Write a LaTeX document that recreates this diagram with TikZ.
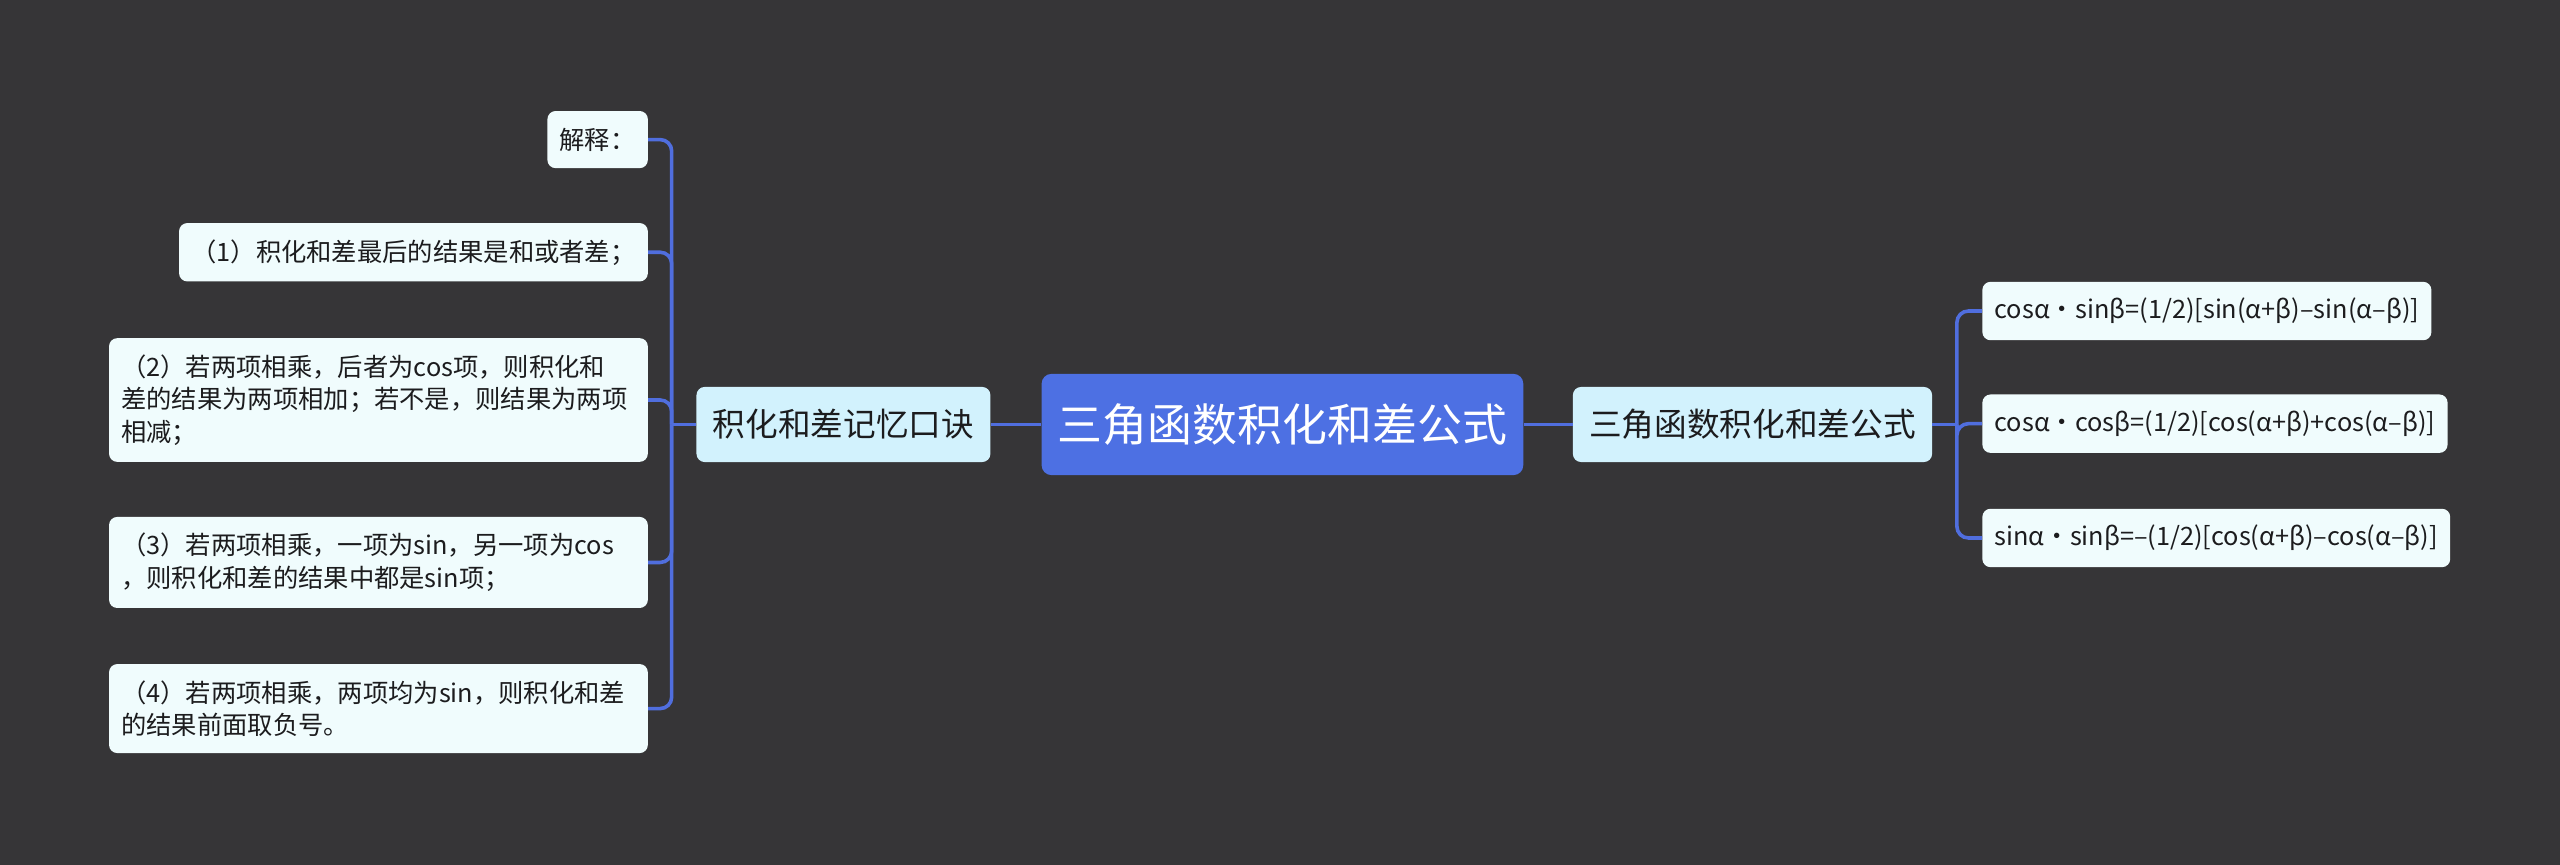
\documentclass[tikz,border=0pt]{standalone}
\usepackage{fontspec}
\setmainfont{Noto Sans CJK SC}
\usetikzlibrary{positioning, calc}
\definecolor{bgColor}{RGB}{54,53,55}
\definecolor{linkColor}{RGB}{80,110,222}
\definecolor{rootColor}{RGB}{77,112,227}
\definecolor{branchColor}{RGB}{210,242,253}
\definecolor{leafColor}{RGB}{240,252,253}
\definecolor{inkColor}{RGB}{28,28,30}
\tikzset{
    rootnode/.style={
        rectangle,
        rounded corners=6pt,
        fill=rootColor,
        text=white,
        font=\fontsize{27.5}{33}\selectfont,
        inner xsep=10pt,
        minimum height=62pt
    },
    branchnode/.style={
        rectangle,
        rounded corners=5pt,
        fill=branchColor,
        text=inkColor,
        font=\fontsize{20}{24}\selectfont,
        inner xsep=10pt,
        minimum height=46pt
    },
    leafnode/.style={
        rectangle,
        rounded corners=5pt,
        fill=leafColor,
        text=inkColor,
        font=\fontsize{15.5}{20}\selectfont,
        inner xsep=7.5pt,
        inner ysep=10pt,
        minimum height=35pt,
        align=left
    },
    wideleaf/.style={
        leafnode,
        text width=315pt
    },
    link/.style={draw=linkColor, line width=2.2pt},
    elbow/.style={link, rounded corners=7pt}
}
\begin{document}
\begin{tikzpicture}[x=1pt, y=-1pt]
    \fill[bgColor] (0,0) rectangle (1568,529.8);
    \useasboundingbox (0,0) rectangle (1568,529.8);

    \node[rootnode] (root) at (785.5,260) {三角函数积化和差公式};
    \node[branchnode, left=31pt of root] (memo) {积化和差记忆口诀};
    \node[branchnode, right=30pt of root] (formula) {三角函数积化和差公式};

    % 左侧：口诀
    \node[leafnode, anchor=east] (note) at (397,85.5) {解释：};
    \node[leafnode, anchor=east] (ruleA) at (397,154.5) {（1）积化和差最后的结果是和或者差；};
    \node[wideleaf, anchor=east] (ruleB) at (397,245) {（2）若两项相乘，后者为cos项，则积化和\\差的结果为两项相加；若不是，则结果为两项\\相减；};
    \node[wideleaf, anchor=east] (ruleC) at (397,344.5) {（3）若两项相乘，一项为sin，另一项为cos\\，则积化和差的结果中都是sin项；};
    \node[wideleaf, anchor=east] (ruleD) at (397,434) {（4）若两项相乘，两项均为sin，则积化和差\\的结果前面取负号。};

    % 右侧：公式
    \node[leafnode, anchor=west] (fA) at (1214,190.5) {cosα·sinβ=(1/2)[sin(α+β)–sin(α–β)]};
    \node[leafnode, anchor=west] (fB) at (1214,259.5) {cosα·cosβ=(1/2)[cos(α+β)+cos(α–β)]};
    \node[leafnode, anchor=west] (fC) at (1214,329.5) {sinα·sinβ=–(1/2)[cos(α+β)–cos(α–β)]};

    \draw[link] (root) -- (memo);
    \draw[link] (root) -- (formula);

    \coordinate (ltrunk) at ($(memo.west)+(-15,0)$);
    \draw[link] (memo.west) -- (ltrunk);
    \draw[elbow] (ltrunk) |- (note.east);
    \draw[elbow] (ltrunk) |- (ruleA.east);
    \draw[elbow] (ltrunk) |- (ruleB.east);
    \draw[elbow] (ltrunk) |- (ruleC.east);
    \draw[elbow] (ltrunk) |- (ruleD.east);

    \coordinate (rtrunk) at ($(formula.east)+(15,0)$);
    \draw[link] (formula.east) -- (rtrunk);
    \draw[elbow] (rtrunk) |- (fA.west);
    \draw[elbow] (rtrunk) |- (fB.west);
    \draw[elbow] (rtrunk) |- (fC.west);
\end{tikzpicture}
\end{document}
